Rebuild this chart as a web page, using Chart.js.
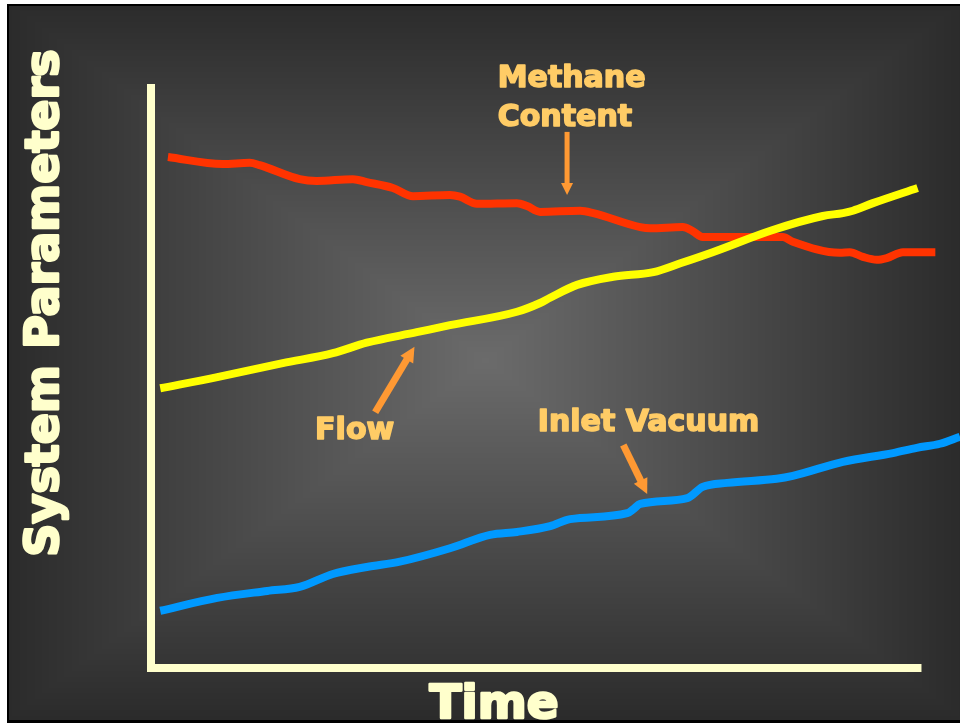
<!DOCTYPE html>
<html>
<head>
<meta charset="utf-8">
<script src="https://cdn.jsdelivr.net/npm/chart.js@4.4.1/dist/chart.umd.min.js"></script>
<style>
  html, body { margin: 0; padding: 0; background: #ffffff; }
  canvas { display: block; }
</style>
</head>
<body>
<canvas id="grafico" width="960" height="725"></canvas>
<script>
// Datos (tiempo 0-100 = largo del eje X, valores 0-100 = alto del eje Y)
var methaneTime  = [2.2, 9.3, 12.8, 14.1, 19.3, 21.5, 26.2, 28.0, 31.4, 34.0, 38.8, 40.1, 42.3, 47.5, 48.8, 50.5, 55.7, 57.4, 63.5, 64.8, 69.0, 70.3, 71.6, 82.0, 83.3, 89.4, 90.7, 92.4, 94.2, 95.5, 97.6, 101.8];
var methaneValue = [87.5, 86.3, 86.5, 86.1, 83.7, 83.4, 83.7, 83.2, 82.2, 80.8, 81.0, 80.7, 79.5, 79.6, 79.1, 78.1, 78.3, 77.9, 75.5, 75.3, 75.5, 74.8, 73.8, 73.8, 73.0, 71.1, 71.2, 70.4, 69.9, 70.2, 71.2, 71.2];

var flowTime  = [1.2, 8.6, 17.1, 23.6, 28.0, 34.5, 38.8, 47.5, 50.5, 51.8, 55.3, 60.0, 65.2, 68.7, 72.9, 80.7, 87.2, 89.8, 91.1, 93.7, 99.5];
var flowValue = [47.9, 49.8, 52.2, 53.9, 55.7, 57.5, 58.7, 61.0, 62.5, 63.4, 65.6, 67.0, 67.8, 69.3, 71.2, 75.0, 77.4, 77.9, 78.3, 79.6, 82.2];

var vacuumTime  = [1.2, 8.6, 15.1, 19.3, 23.6, 28.0, 32.3, 38.8, 44.0, 47.5, 51.8, 54.4, 61.8, 62.6, 63.5, 69.6, 71.6, 74.8, 81.2, 83.3, 89.8, 96.3, 99.4, 102.4, 105.0];
var vacuumValue = [9.8, 12.0, 13.2, 13.9, 16.1, 17.3, 18.2, 20.5, 22.8, 23.3, 24.3, 25.5, 26.5, 27.2, 28.1, 29.1, 31.0, 31.7, 32.4, 32.9, 35.3, 36.8, 37.7, 38.4, 39.6];

// Etiquetas y flechas (en unidades de datos)
var etiquetas = [
    { texto: 'Methane', t: 45.0, v: 99.5 },
    { texto: 'Content', t: 45.0, v: 92.8 },
    { texto: 'Flow', t: 21.3, v: 39.2 },
    { texto: 'Inlet Vacuum', t: 50.2, v: 40.6 }
];
var flechas = [
    { desde: [54.0, 91.8], hasta: [54.0, 81.0], grosor: 5, punta: 12 },
    { desde: [29.1, 43.8], hasta: [34.2, 55.0], grosor: 7, punta: 15 },
    { desde: [61.3, 38.2], hasta: [64.4, 29.8], grosor: 7, punta: 15 }
];

var tituloY = 'System Parameters';
var tituloX = 'Time';

function juntar(ts, vs) {
    return ts.map(function(t, i) { return { x: t, y: vs[i] }; });
}

// Fondo con degradado rectangular desde el centro (estilo diapositiva)
function crearFondo(w, h) {
    var c = document.createElement('canvas');
    c.width = w; c.height = h;
    var g = c.getContext('2d');
    var img = g.createImageData(w, h);
    var cx = 485, cy = 360, hw = 477, hh = 358;
    for (var y = 0; y < h; y++) {
        for (var x = 0; x < w; x++) {
            var k = Math.max(Math.abs(x - cx) / hw, Math.abs(y - cy) / hh);
            if (k > 1) k = 1;
            var col = Math.round(107 - k * 64);
            var i = (y * w + x) * 4;
            img.data[i] = col; img.data[i + 1] = col; img.data[i + 2] = col; img.data[i + 3] = 255;
        }
    }
    g.putImageData(img, 0, 0);
    return c;
}
var fondo = crearFondo(960, 725);

function textoGrueso(ctx, texto, x, y, grosor) {
    ctx.lineWidth = grosor;
    ctx.lineJoin = 'round';
    ctx.strokeText(texto, x, y);
    ctx.fillText(texto, x, y);
}

var decoracion = {
    id: 'decoracion',
    beforeDraw: function(chart) {
        var ctx = chart.ctx;
        ctx.save();
        ctx.fillStyle = '#ffffff';
        ctx.fillRect(0, 0, 960, 725);
        ctx.fillStyle = '#000000';
        ctx.fillRect(7, 4, 960, 719);
        ctx.drawImage(fondo, 9, 6, 951, 714, 9, 6, 951, 714);
        ctx.restore();
    },
    beforeDatasetsDraw: function(chart) {
        var ctx = chart.ctx;
        var sx = chart.scales.x, sy = chart.scales.y;
        var x0 = sx.getPixelForValue(0), y0 = sy.getPixelForValue(0);
        var x1 = sx.getPixelForValue(100), y1 = sy.getPixelForValue(100);
        ctx.save();
        ctx.strokeStyle = '#FFFFCC';
        ctx.lineWidth = 8;
        ctx.lineCap = 'butt';
        ctx.beginPath();
        ctx.moveTo(x0, y1);
        ctx.lineTo(x0, y0 + 4);
        ctx.stroke();
        ctx.beginPath();
        ctx.moveTo(x0, y0);
        ctx.lineTo(x1, y0);
        ctx.stroke();
        ctx.restore();
    },
    afterDatasetsDraw: function(chart) {
        var ctx = chart.ctx;
        var sx = chart.scales.x, sy = chart.scales.y;
        ctx.save();

        // Flechas
        ctx.fillStyle = '#FF9933';
        ctx.strokeStyle = '#FF9933';
        flechas.forEach(function(f) {
            var ax = sx.getPixelForValue(f.desde[0]), ay = sy.getPixelForValue(f.desde[1]);
            var bx = sx.getPixelForValue(f.hasta[0]), by = sy.getPixelForValue(f.hasta[1]);
            var ang = Math.atan2(by - ay, bx - ax);
            var largoPunta = f.punta, anchoPunta = f.punta / 2;
            var px = bx - Math.cos(ang) * largoPunta, py = by - Math.sin(ang) * largoPunta;
            ctx.lineWidth = f.grosor;
            ctx.lineCap = 'butt';
            ctx.beginPath();
            ctx.moveTo(ax, ay);
            ctx.lineTo(px + Math.cos(ang), py + Math.sin(ang));
            ctx.stroke();
            ctx.beginPath();
            ctx.moveTo(bx, by);
            ctx.lineTo(px + Math.sin(ang) * anchoPunta, py - Math.cos(ang) * anchoPunta);
            ctx.lineTo(px - Math.sin(ang) * anchoPunta, py + Math.cos(ang) * anchoPunta);
            ctx.closePath();
            ctx.fill();
        });

        // Etiquetas de las series
        ctx.fillStyle = '#FFCC66';
        ctx.strokeStyle = '#FFCC66';
        ctx.font = 'bold 30px "DejaVu Sans"';
        ctx.textAlign = 'left';
        ctx.textBaseline = 'alphabetic';
        etiquetas.forEach(function(e) {
            textoGrueso(ctx, e.texto, sx.getPixelForValue(e.t), sy.getPixelForValue(e.v), 1.6);
        });

        // Titulos de los ejes
        ctx.fillStyle = '#FFFFCC';
        ctx.strokeStyle = '#FFFFCC';
        ctx.font = 'bold 47px "DejaVu Sans"';
        ctx.textAlign = 'center';
        textoGrueso(ctx, tituloX, 494, 718, 2.6);
        ctx.translate(58, 303);
        ctx.rotate(-Math.PI / 2);
        ctx.font = 'bold 46px "DejaVu Sans"';
        textoGrueso(ctx, tituloY, 0, 0, 2.6);
        ctx.restore();
    }
};

var estiloLinea = {
    pointRadius: 0,
    borderWidth: 8,
    cubicInterpolationMode: 'monotone',
    fill: false,
    clip: false
};

var grafico = new Chart(document.getElementById('grafico').getContext('2d'), {
    type: 'line',
    data: {
        datasets: [
            Object.assign({ label: 'Inlet Vacuum', data: juntar(vacuumTime, vacuumValue), borderColor: '#0099FF' }, estiloLinea),
            Object.assign({ label: 'Flow', data: juntar(flowTime, flowValue), borderColor: '#FFFF00' }, estiloLinea),
            Object.assign({ label: 'Methane Content', data: juntar(methaneTime, methaneValue), borderColor: '#FF3300' }, estiloLinea)
        ]
    },
    options: {
        responsive: false,
        animation: false,
        layout: { padding: { left: 151, right: 0, top: 84, bottom: 57 } },
        scales: {
            x: { type: 'linear', min: 0, max: 105, display: false },
            y: { min: 0, max: 100, display: false }
        },
        plugins: {
            legend: { display: false },
            tooltip: { enabled: false }
        }
    },
    plugins: [decoracion]
});
</script>
</body>
</html>
